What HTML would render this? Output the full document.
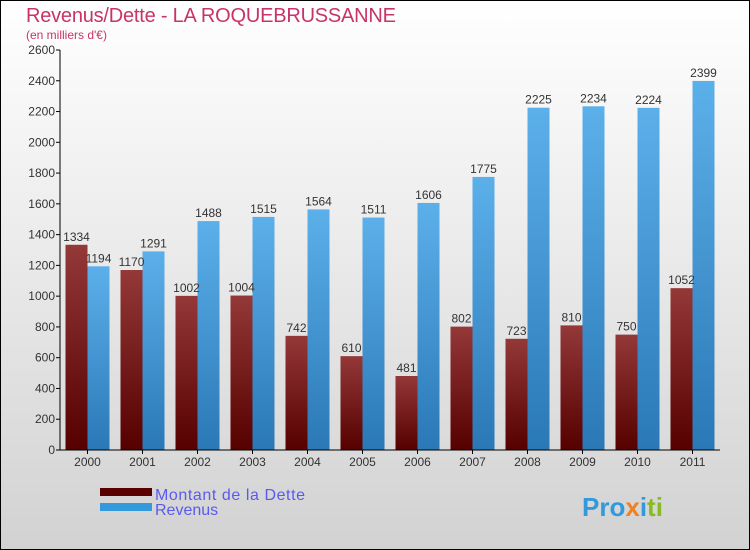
<!DOCTYPE html>
<html><head><meta charset="utf-8"><style>
body{margin:0}
svg{display:block;font-family:"Liberation Sans",sans-serif}
</style></head><body>
<svg id="c" width="750" height="550">
<defs>
<linearGradient id="bg" x1="0" y1="0" x2="0" y2="1"><stop offset="0" stop-color="#ffffff"/><stop offset="1" stop-color="#d2d2d2"/></linearGradient>
<linearGradient id="gd" x1="0" y1="0" x2="0" y2="1"><stop offset="0" stop-color="#943838"/><stop offset="1" stop-color="#560000"/></linearGradient>
<linearGradient id="gr" x1="0" y1="0" x2="0" y2="1"><stop offset="0" stop-color="#5cb0ea"/><stop offset="1" stop-color="#2a78b6"/></linearGradient>
</defs>
<rect x="0.5" y="0.5" width="749" height="549" fill="url(#bg)" stroke="#000"/>
<text x="26" y="22" font-size="20" fill="#c8336a" textLength="370">Revenus/Dette - LA ROQUEBRUSSANNE</text>
<text x="26" y="39" font-size="12" fill="#c8336a">(en milliers d'€)</text>
<g id="plot"></g>
<rect x="100" y="488" width="52" height="8" fill="#5a0000"/>
<text x="155" y="500" font-size="16" fill="#5a5aee" textLength="150">Montant de la Dette</text>
<rect x="100" y="503" width="52" height="8" fill="#3399dd"/>
<text x="155" y="515" font-size="16" fill="#5a5aee">Revenus</text>
<text x="582" y="516" font-size="26" font-weight="bold"><tspan fill="#3399dd">Pro</tspan><tspan fill="#f08020">x</tspan><tspan fill="#3399dd">i</tspan><tspan fill="#88bb22">ti</tspan></text>
</svg>
<script>
const years=["2000","2001","2002","2003","2004","2005","2006","2007","2008","2009","2010","2011"];
const dette=[1334,1170,1002,1004,742,610,481,802,723,810,750,1052];
const revenus=[1194,1291,1488,1515,1564,1511,1606,1775,2225,2234,2224,2399];
const yTicks=[0,200,400,600,800,1000,1200,1400,1600,1800,2000,2200,2400,2600];
const NS="http://www.w3.org/2000/svg";
const g=document.getElementById('plot');
const x0=60,x1=720,y0=450,yTop=50,yMax=2600;
const y=v=>y0-(v/yMax)*(y0-yTop);
const bw=(x1-x0)/years.length;
const cx=i=>x0+bw*(i+0.5);
function mk(t,a){const e=document.createElementNS(NS,t);for(const k in a)e.setAttribute(k,a[k]);g.appendChild(e);return e;}
yTicks.forEach(v=>{
 const l=mk('line',{x1:x0-4,x2:x0,y1:y(v),y2:y(v),stroke:'#000'});
 
 
 const t=mk('text',{x:x0-5,y:y(v)+4,'font-size':12,'text-anchor':'end',fill:'#333'});
 t.textContent=v;
 
 
});
years.forEach((yr,i)=>{
 const c=cx(i);
 const r1=mk('rect',{x:c-22,y:y(dette[i]),width:22,height:y0-y(dette[i]),fill:'url(#gd)'});
 
 
 const r2=mk('rect',{x:c,y:y(revenus[i]),width:22,height:y0-y(revenus[i]),fill:'url(#gr)'});
 
 
 const t1=mk('text',{x:c-11,y:y(dette[i])-4,'font-size':12,'text-anchor':'middle',fill:'#333'});
 t1.textContent=dette[i];
 
 
 const t2=mk('text',{x:c+11,y:y(revenus[i])-4,'font-size':12,'text-anchor':'middle',fill:'#333'});
 t2.textContent=revenus[i];
 
 
 const tk=mk('line',{x1:c,x2:c,y1:y0,y2:y0+4,stroke:'#000'});
 
 
 const xl=mk('text',{x:c,y:y0+16,'font-size':12,'text-anchor':'middle',fill:'#333'});
 xl.textContent=yr;
 
 
});
const ax=mk('line',{x1:x0,x2:x0,y1:yTop,y2:y0,stroke:'#000'});


const axx=mk('line',{x1:x0,x2:x1,y1:y0,y2:y0,stroke:'#000'});


</script>
</body></html>
